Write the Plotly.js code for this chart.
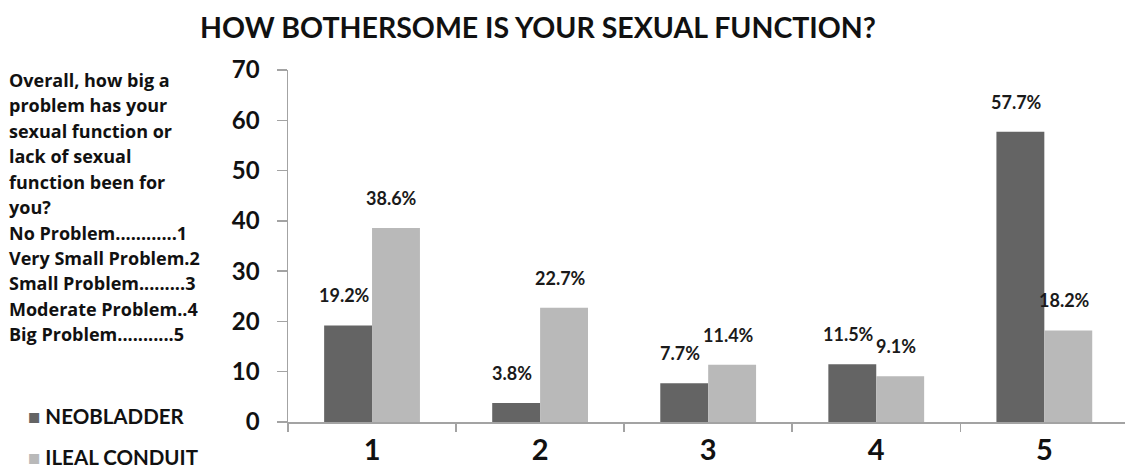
<!DOCTYPE html>
<html>
<head>
<meta charset="utf-8">
<script src="https://cdn.plot.ly/plotly-3.0.1.min.js"></script>
<style>
  html, body { margin: 0; padding: 0; background: #ffffff; }
  #chart { width: 1125px; height: 471px; }
</style>
</head>
<body>
<div id="chart"></div>
<script>
// Response categories (1 = no problem ... 5 = big problem)
const categories = ['1', '2', '3', '4', '5'];
// Percent of patients per response, by urinary diversion type
const neobladder = [19.2, 3.8, 7.7, 11.5, 57.7];
const ilealConduit = [38.6, 22.7, 11.4, 9.1, 18.2];
const seriesNames = ['NEOBLADDER', 'ILEAL CONDUIT'];
const yTickValues = [0, 10, 20, 30, 40, 50, 60, 70];
const chartTitle = 'HOW BOTHERSOME IS YOUR SEXUAL FUNCTION?';
const questionLines = [
  'Overall, how big a',
  'problem has your',
  'sexual function or',
  'lack of sexual',
  'function been for',
  'you?',
  'No Problem............1',
  'Very Small Problem.2',
  'Small Problem.........3',
  'Moderate Problem..4',
  'Big Problem...........5'
];

const FONT = 'Lato, "Open Sans", "Liberation Sans", sans-serif';
const TEXT_FONT = '"Open Sans", Lato, "Liberation Sans", sans-serif';
const DARK = '#646464';
const LIGHT = '#b9b9b9';
const AXIS = '#a3a3a3';
const W = 1125, H = 471;
const PLOT_LEFT = 288, PLOT_TOP = 70, PLOT_BOTTOM = 421.7;

const seriesValues = [neobladder, ilealConduit];
const seriesColors = [DARK, LIGHT];

const traces = seriesValues.map((vals, s) => ({
  type: 'bar',
  name: seriesNames[s],
  x: categories,
  y: vals,
  marker: { color: seriesColors[s], line: { width: 0 } },
  showlegend: false,
  hoverinfo: 'x+y+name'
}));

const BARGAP = 0.43;
const halfBar = (1 - BARGAP) / 4; // centre offset of each bar within its group

// helpers to place side text in pixel terms relative to the page
const plotW = W - PLOT_LEFT;
const plotH = PLOT_BOTTOM - PLOT_TOP;
const px2paperX = px => (px - PLOT_LEFT) / plotW;
const px2paperY = py => (PLOT_BOTTOM - py) / plotH;

const annotations = [];

// value labels above each bar
seriesValues.forEach((vals, s) => {
  vals.forEach((v, i) => {
    annotations.push({
      xref: 'x', yref: 'y',
      x: i + (s === 0 ? -halfBar : halfBar),
      y: v,
      yshift: 30,
      xshift: -4,
      text: v.toFixed(1) + '%',
      showarrow: false,
      font: { family: FONT, size: 18, color: '#1a1a1a', weight: 'bold' }
    });
  });
});

// question text on the left
const lineStep = 25.4;
questionLines.forEach((line, k) => {
  annotations.push({
    xref: 'paper', yref: 'paper',
    x: px2paperX(7),
    xanchor: 'left',
    y: px2paperY(80 + k * lineStep),
    yanchor: 'middle',
    text: line,
    showarrow: false,
    align: 'left',
    font: { family: TEXT_FONT, size: 18, color: '#111111', weight: 'bold' }
  });
});

// legend entries
seriesNames.forEach((name, s) => {
  annotations.push({
    xref: 'paper', yref: 'paper',
    x: px2paperX(26),
    xanchor: 'left',
    y: px2paperY(416 + s * 41),
    yanchor: 'middle',
    text: '<span style="color:' + seriesColors[s] + '">■</span> ' + name,
    showarrow: false,
    font: { family: FONT, size: 20.5, color: '#111111', weight: 'bold' }
  });
});

const layout = {
  width: W,
  height: H,
  paper_bgcolor: '#ffffff',
  plot_bgcolor: '#ffffff',
  margin: { l: PLOT_LEFT, r: 0, t: PLOT_TOP, b: H - PLOT_BOTTOM, pad: 0 },
  barmode: 'group',
  bargap: BARGAP,
  bargroupgap: 0,
  title: {
    text: chartTitle,
    x: 538 / W,
    xanchor: 'center',
    xref: 'container',
    y: 1 - 28 / H,
    yref: 'container',
    yanchor: 'middle',
    font: { family: FONT, size: 28.5, color: '#111111', weight: 'bold' }
  },
  xaxis: {
    type: 'category',
    range: [-0.5, 4.48],
    showline: true,
    linecolor: AXIS,
    linewidth: 1.5,
    ticks: 'outside',
    tickson: 'boundaries',
    ticklen: 8,
    tickcolor: AXIS,
    tickwidth: 1.5,
    showgrid: false,
    zeroline: false,
    ticklabelstandoff: 2,
    tickfont: { family: FONT, size: 29, color: '#111111', weight: 'bold' }
  },
  yaxis: {
    range: [0, 70],
    tickvals: yTickValues,
    showline: true,
    linecolor: AXIS,
    linewidth: 1.5,
    ticks: 'outside',
    ticklen: 10,
    tickcolor: AXIS,
    tickwidth: 1.5,
    showgrid: false,
    zeroline: false,
    ticklabelstandoff: 12,
    tickfont: { family: FONT, size: 24, color: '#111111', weight: 'bold' }
  },
  annotations: annotations
};

Plotly.newPlot('chart', traces, layout, { displayModeBar: false, staticPlot: true });
</script>
</body>
</html>
